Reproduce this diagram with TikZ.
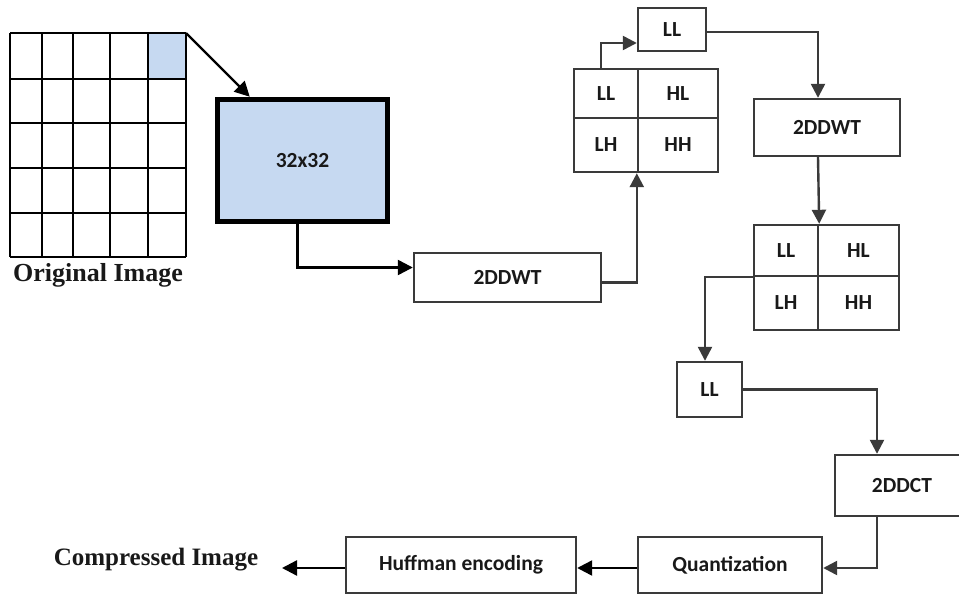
\documentclass[tikz,border=0pt]{standalone}
\usepackage{fontspec}
\setmainfont{Liberation Serif}
\newfontfamily\carlito{Carlito}
\usetikzlibrary{arrows.meta}
\definecolor{lg}{HTML}{3A3A3A}
\definecolor{lblue}{HTML}{C6D9F1}
\begin{document}
\begin{tikzpicture}[x=1pt,y=-1pt,
  boxfont/.style={font=\carlito\bfseries\fontsize{21.5}{25}\selectfont, text=black!90},
  box/.style={draw=lg,line width=2.4pt,fill=white,inner sep=0pt,boxfont},
  cell/.style={draw=lg,line width=2.4pt,inner sep=0pt,boxfont},
  gridline/.style={draw=black,line width=2.2pt},
  conn/.style={draw=lg,line width=2.4pt,-{Triangle[length=14pt,width=14pt]}},
  bconn/.style={draw=black,line width=2.4pt,-{Triangle[length=15pt,width=15pt]}},
  caption/.style={font=\bfseries\fontsize{26}{30}\selectfont, text=black!90, inner sep=0pt}
]
\useasboundingbox (0,0) rectangle (959,594);

% original image grid
\fill[lblue] (148,33) rectangle (186,79);
\foreach \yy in {33,79,123,168,213,257} \draw[gridline] (10,\yy) -- (186,\yy);
\foreach \xx in {10,42,73,110,148,186} \draw[gridline] (\xx,33) -- (\xx,257);
\coordinate (gridTR) at (186,33);
\node[caption] (orig) at (98,275) {Original Image};

% 32x32 block
\node[draw=black,line width=5.5pt,fill=lblue,minimum width=170pt,minimum height=122pt,inner sep=0pt,boxfont] (blk) at (302.5,160.5) {32x32};

% first 2DDWT
\node[box,minimum width=187pt,minimum height=49pt] (dwt1) at (507.5,277.5) {2DDWT};

% first sub-band grid
\node[cell,minimum width=64pt,minimum height=49pt] (g2ll) at (606,93.5) {LL};
\node[cell,minimum width=80pt,minimum height=49pt] (g2hl) at (678,93.5) {HL};
\node[cell,minimum width=64pt,minimum height=54pt] (g2lh) at (606,145) {LH};
\node[cell,minimum width=80pt,minimum height=54pt] (g2hh) at (678,145) {HH};

% LL after first level
\node[box,minimum width=68pt,minimum height=43pt] (ll1) at (672,29.5) {LL};

% second 2DDWT
\node[box,minimum width=146pt,minimum height=57pt] (dwt2) at (827,127.5) {2DDWT};

% second sub-band grid
\node[cell,minimum width=64pt,minimum height=51pt] (g3ll) at (786,250.5) {LL};
\node[cell,minimum width=81pt,minimum height=51pt] (g3hl) at (858.5,250.5) {HL};
\node[cell,minimum width=64pt,minimum height=54pt] (g3lh) at (786,303) {LH};
\node[cell,minimum width=81pt,minimum height=54pt] (g3hh) at (858.5,303) {HH};

% LL after second level
\node[box,minimum width=65pt,minimum height=55pt] (ll2) at (709.5,389.5) {LL};

% 2DDCT
\node[box,minimum width=134pt,minimum height=61pt] (dct) at (902,485.5) {2DDCT};

% Quantization and Huffman
\node[box,minimum width=184pt,minimum height=56pt] (quant) at (730,565) {Quantization};
\node[box,minimum width=230pt,minimum height=56pt] (huff) at (461,565) {Huffman encoding};

% output caption
\node[caption,font=\bfseries\fontsize{25}{30}\selectfont] (comp) at (156,560) {Compressed Image};
\coordinate (compEnd) at (282,568);

% connectors
\draw[bconn] (gridTR) -- ([xshift=35pt]blk.north west);
\draw[bconn] ([xshift=-5pt]blk.south) |- ([yshift=10pt]dwt1.west);
\draw[conn] ([yshift=-5pt]dwt1.east) -| (g2hh.south west);
\draw[conn] ([xshift=-5pt]g2ll.north) |- ([yshift=-13.5pt]ll1.west);
\draw[conn] ([yshift=-2.5pt]ll1.east) -| ([xshift=-9pt]dwt2.north);
\draw[conn] ([xshift=-9pt]dwt2.south) -- (g3ll.north east);
\draw[conn] (g3ll.south west) -| ([xshift=-4.5pt]ll2.north);
\draw[conn] (ll2.east) -| ([xshift=-25pt]dct.north);
\draw[conn] ([xshift=-25pt]dct.south) |- ([yshift=-3pt]quant.east);
\draw[bconn] ([yshift=-3pt]quant.west) -- ([yshift=-3pt]huff.east);
\draw[bconn] ([yshift=-3pt]huff.west) -- (compEnd);
\end{tikzpicture}
\end{document}
